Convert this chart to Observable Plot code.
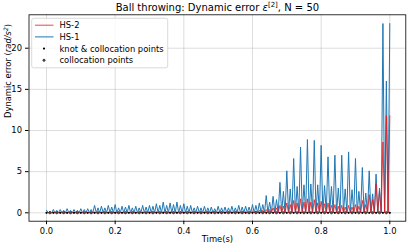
<!DOCTYPE html>
<html><head><meta charset="utf-8">
<script src="https://cdn.jsdelivr.net/npm/d3@7"></script>
<script src="https://cdn.jsdelivr.net/npm/@observablehq/plot@0.6"></script>
<style>body{margin:0;background:#fff} svg{display:block}</style>
</head><body><div id="chart"></div>
<script>
// ---- text ----
const titleText = "Ball throwing: Dynamic error ε[2], N = 50";
const xLabel = "Time(s)";
const yLabel = "Dynamic error (rad/s²)";
const seriesNames = ["HS-2", "HS-1"];
const markerNames = ["knot & collocation points", "collocation points"];
const xTicks = [0, 0.2, 0.4, 0.6, 0.8, 1.0];
const yTicks = [0, 5, 10, 15, 20];

// ---- grid: N = 50 intervals on [0, 1] ----
const knotTimes = d3.range(51).map(i => i / 50);
const midTimes = d3.range(50).map(i => (i + 0.5) / 50);

// ---- HS-1 dynamic error: peak values near knots and at midpoints ----
const hs1Knot = [0.3,0.4,0.4,0.5,0.4,0.5,0.5,
  0.9,0.8,0.9,1.0,0.8,0.9,0.8,0.9,
  0.9,1.1,1.3,1.2,1.3,1.1,
  0.9,0.8,0.8,0.7,0.8,0.7,0.8,0.9,0.8,
  1.0,1.2,2.1,2.0,
  3.7,5.1,6.6,8.0,8.9,8.8,8.2,6.8,7.0,7.0,7.4,6.6,5.5,5.1,4.7,
  23.0,23.0];
const hs1Mid = [0.2,0.3,0.3,0.3,0.3,0.4,0.4,
  0.6,0.6,0.7,0.6,0.7,0.6,0.6,0.7,
  0.8,0.9,0.9,1.0,0.9,0.8,
  0.6,0.6,0.6,0.5,0.6,0.6,0.6,0.7,0.7,
  0.9,1.0,1.3,1.6,
  2.6,2.9,3.2,3.4,3.5,3.4,3.3,3.2,3.0,2.9,2.8,2.6,2.4,2.3,
  3.0,16.0];
// ---- HS-2 dynamic error ----
const hs2Knot = [0.05,0.05,0.05,0.05,0.05,0.05,0.05,
  0.05,0.05,0.05,0.05,0.05,0.05,0.05,0.05,
  0.1,0.1,0.1,0.1,0.1,0.1,
  0.1,0.1,0.1,0.1,0.1,0.1,0.1,0.1,0.1,
  0.2,0.3,0.4,0.6,
  0.9,1.2,1.5,1.7,1.7,1.6,1.4,1.2,1.0,0.9,0.9,1.0,1.5,2.2,3.5,
  8.6,11.8];
const hs2Mid = [0.05,0.05,0.05,0.05,0.05,0.05,0.05,
  0.05,0.05,0.05,0.05,0.05,0.05,0.05,0.05,
  0.1,0.1,0.1,0.1,0.1,0.1,
  0.1,0.1,0.1,0.1,0.1,0.1,0.1,0.1,0.1,
  0.2,0.3,0.4,0.6,
  0.8,1.0,1.2,1.3,1.3,1.2,1.1,0.9,0.8,0.7,0.7,0.8,1.0,1.6,
  2.6,11.8];

function curve(knot, mid) {
  const pts = [];
  for (let i = 0; i < 50; i++) {
    pts.push({t: knotTimes[i], v: knot[i]});
    pts.push({t: (knotTimes[i] + midTimes[i]) / 2, v: 0});
    pts.push({t: midTimes[i], v: mid[i]});
    pts.push({t: (midTimes[i] + knotTimes[i + 1]) / 2, v: 0});
  }
  pts.push({t: knotTimes[50], v: knot[50]});
  return pts;
}
const hs1 = curve(hs1Knot, hs1Mid);
const hs2 = curve(hs2Knot, hs2Mid);

const blue = "#1f77b4", red = "#e41a1c";
const gridStyle = {stroke: "#b0b0b0", strokeOpacity: 0.55, strokeWidth: 0.8};

const plot = Plot.plot({
  width: 407, height: 244,
  marginLeft: 28.5, marginRight: 1.7, marginTop: 14.3, marginBottom: 23.3,
  style: {fontFamily: "DejaVu Sans", fontSize: "8.4px", color: "#000", background: "#fff"},
  x: {domain: [-0.051, 1.0466]},
  y: {domain: [-1.02, 24.06]},
  marks: [
    Plot.gridX(xTicks, gridStyle),
    Plot.gridY(yTicks, gridStyle),
    Plot.line(hs1, {x: "t", y: "v", stroke: blue, strokeWidth: 1}),
    Plot.line(hs2, {x: "t", y: "v", stroke: red, strokeOpacity: 0.8, strokeWidth: 1}),
    Plot.dot(knotTimes, {x: d => d, y: d => 0, r: 1.1, fill: "#000"}),
    Plot.dot(midTimes, {x: d => d, y: d => 0, r: 1.2, fill: "#555", stroke: "#000", strokeWidth: 0.4}),
    Plot.frame({stroke: "#000", strokeWidth: 0.8}),
    Plot.axisX(xTicks, {tickSize: 3.5, tickPadding: 3.5, tickFormat: d3.format(".1f"), label: null}),
    Plot.axisY(yTicks, {tickSize: 3.5, tickPadding: 3.5, label: null}),
    Plot.text([xLabel], {frameAnchor: "bottom", dy: 18, text: d => d, lineAnchor: "middle", fontSize: 8.4}),
    Plot.text([yLabel], {frameAnchor: "left", dx: -20.5, rotate: -90, text: d => d, lineAnchor: "middle", fontSize: 8.4, className: "ylab"}),
    Plot.text([titleText], {frameAnchor: "top", dy: -7.3, text: d => d, lineAnchor: "middle", fontSize: 10, className: "ttl"})
  ]
});
document.getElementById("chart").appendChild(plot);

const svg = d3.select(plot);
// title with superscript
const tt = svg.select(".ttl text");
tt.text(null);
tt.append("tspan").text("Ball throwing: Dynamic error ");
tt.append("tspan").attr("font-style", "italic").text("ε");
tt.append("tspan").attr("font-size", "7px").attr("dy", "-4").text("[2]");
tt.append("tspan").attr("dy", "4").text(", N = 50");
// y label with italic units
const yl = svg.select(".ylab text");
yl.text(null);
yl.append("tspan").text("Dynamic error (");
yl.append("tspan").attr("font-style", "italic").text("rad/s");
yl.append("tspan").attr("font-style", "italic").attr("font-size", "6px").attr("dy", "-3").text("2");
yl.append("tspan").attr("dy", "3").text(")");

// legend
const lg = svg.append("g").attr("font-family", "DejaVu Sans").attr("font-size", "8.4px").attr("text-anchor", "start");
lg.append("rect").attr("x", 31.7).attr("y", 18.3).attr("width", 136).attr("height", 49.5)
  .attr("rx", 2).attr("fill", "#fff").attr("fill-opacity", 0.8).attr("stroke", "#d0d0d0").attr("stroke-width", 0.8);
const rows = [25.2, 36.9, 48.6, 60.3];
[[seriesNames[0], red, 0.8], [seriesNames[1], blue, 1]].forEach(([name, c, o], i) => {
  lg.append("line").attr("x1", 35).attr("x2", 53.5).attr("y1", rows[i]).attr("y2", rows[i])
    .attr("stroke", c).attr("stroke-opacity", o).attr("stroke-width", 1);
  lg.append("text").attr("x", 59.5).attr("y", rows[i]).attr("dy", "0.35em").attr("text-anchor", "start").text(name);
});
lg.append("circle").attr("cx", 44).attr("cy", rows[2]).attr("r", 1.1).attr("fill", "#000");
lg.append("text").attr("x", 59.5).attr("y", rows[2]).attr("dy", "0.35em").attr("text-anchor", "start").text(markerNames[0]);
lg.append("circle").attr("cx", 44).attr("cy", rows[3]).attr("r", 1.2).attr("fill", "#555").attr("stroke", "#000").attr("stroke-width", 0.4);
lg.append("text").attr("x", 59.5).attr("y", rows[3]).attr("dy", "0.35em").attr("text-anchor", "start").text(markerNames[1]);
</script>
</body></html>
